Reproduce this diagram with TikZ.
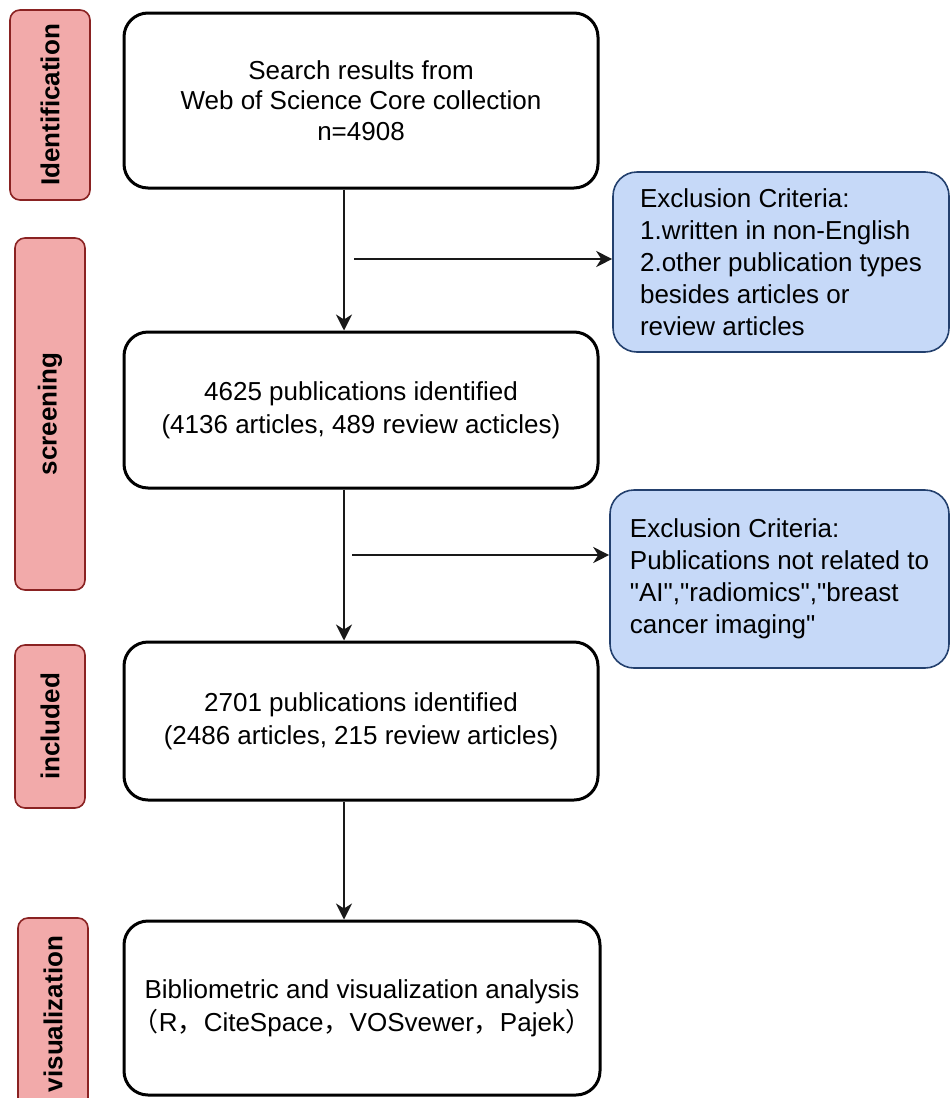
\documentclass[tikz,border=0pt]{standalone}
\usepackage{fontspec}
\setmainfont{Liberation Sans}
\newfontfamily\cjk{Noto Sans CJK SC}
\usetikzlibrary{arrows.meta}
\definecolor{stagefill}{HTML}{F2AAAA}
\definecolor{stagedraw}{HTML}{8A2222}
\definecolor{notefill}{HTML}{C6D9F8}
\definecolor{notedraw}{HTML}{23406E}

\begin{document}
\begin{tikzpicture}[x=0.5pt, y=-0.5pt,
  block/.style={draw, line width=1.5pt, rounded corners=12pt, minimum width=237pt, align=center, font=\fontsize{13}{16.5}\selectfont},
  note/.style={draw=notedraw, fill=notefill, line width=0.8pt, rounded corners=12pt, align=left, font=\fontsize{13}{16}\selectfont},
  stage/.style={draw=stagedraw, fill=stagefill, line width=0.8pt, rounded corners=5pt, rotate=90, font=\fontsize{13}{15}\selectfont\bfseries},
  flow/.style={-{Stealth[length=8pt, width=8pt, inset=2.5pt]}, line width=1pt, color=black!90}]

  \useasboundingbox (0,0) rectangle (951,1098);

  % Main column
  \node[block, minimum height=87.5pt, font=\fontsize{13}{15.3}\selectfont] (search) at (361,100.5) {Search results from\\Web of Science Core collection\\n=4908};
  \node[block, minimum height=78pt] (found) at (361,410) {4625 publications identified\\(4136 articles, 489 review acticles)};
  \node[block, minimum height=79pt] (kept) at (361,721) {2701 publications identified\\(2486 articles, 215 review articles)};
  \node[block, minimum width=238pt, minimum height=87pt] (analysis) at (362,1008) {Bibliometric and visualization analysis\\{\cjk （}R{\cjk ，}CiteSpace{\cjk ，}VOSvewer{\cjk ，}Pajek{\cjk ）}};

  % Exclusion notes
  \node[note, minimum width=168pt, minimum height=90pt] (excl1) at (781,262) {Exclusion Criteria:\\1.written in non-English\\2.other publication types\\besides articles or\\review articles};
  \node[note, minimum width=169.5pt, minimum height=89pt] (excl2) at (779.5,579) {Exclusion Criteria:\\Publications not related to\\\textquotedbl AI\textquotedbl,\textquotedbl radiomics\textquotedbl,\textquotedbl breast\\cancer imaging\textquotedbl};

  % Stage labels
  \node[stage, minimum width=95pt, minimum height=40pt] (ident) at (50,105) {Identification};
  \node[stage, minimum width=176pt, minimum height=35pt] (screen) at (50,414) {screening};
  \node[stage, minimum width=81.5pt, minimum height=35pt] (incl) at (50,726.5) {included};
  \node[stage, minimum width=96pt, minimum height=35pt] (vis) at (53,1014) {visualization};

  % Vertical arrows
  \coordinate (spine) at (344,0);
  \draw[flow] (search.south -| spine) -- (found.north -| spine);
  \draw[flow] (found.south -| spine) -- (kept.north -| spine);
  \draw[flow] (kept.south -| spine) -- (analysis.north -| spine);

  % Side arrows
  \coordinate (split1) at (354,259);
  \coordinate (split2) at (352,555);
  \draw[flow] (split1) -- (split1 -| excl1.west);
  \draw[flow] (split2) -- (split2 -| excl2.west);

\end{tikzpicture}
\end{document}
